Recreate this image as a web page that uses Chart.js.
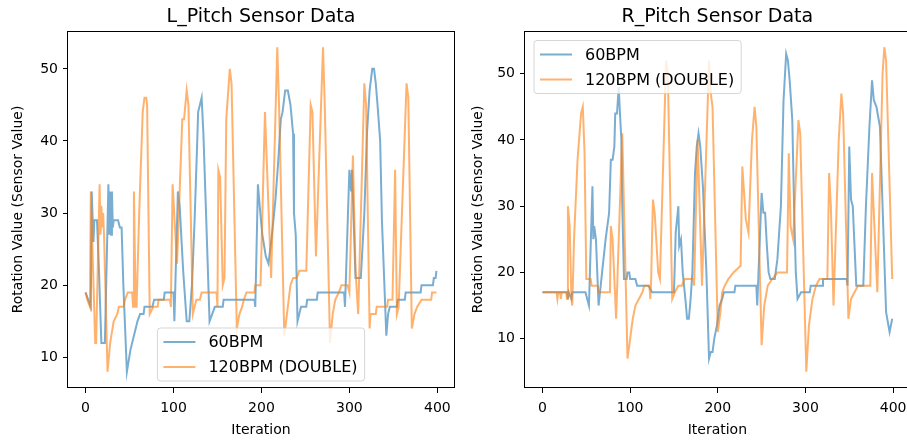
<!DOCTYPE html>
<html>
<head>
<meta charset="utf-8">
<script src="https://cdn.jsdelivr.net/npm/chart.js@4.4.0/dist/chart.umd.min.js"></script>
<style>
  html, body { margin: 0; padding: 0; background: #fff; overflow: hidden; }
  #wrap { position: relative; width: 907px; height: 443px; overflow: hidden; }
  canvas { position: absolute; top: 0; }
</style>
</head>
<body>
<div id="wrap">
  <canvas id="left" width="462" height="443" style="left:0"></canvas>
  <canvas id="right" width="453" height="443" style="left:460px"></canvas>
</div>
<script>
// values (iteration -> sensor value)
const titles = ['L_Pitch Sensor Data', 'R_Pitch Sensor Data'];
const seriesNames = ['60BPM', '120BPM (DOUBLE)'];
const xTicks = [0, 100, 200, 300, 400];
const yTicks = [10, 20, 30, 40, 50];

const leftIter60 = [0,3,6,7,9,10,13,15,18,22,26,27,28,29,30,31,32,37,39,41,43,47,51,55,59,62,66,67,76,78,89,90,100,101,105,107,111,115,118,121,124,127,128,130,132,134,137,141,144,147,156,157,192,193,196,198,201,205,208,212,216,219,222,224,227,230,233,236,237,239,241,243,245,251,252,263,264,294,295,300,302,303,307,313,317,320,323,326,328,330,332,335,337,342,344,346,354,355,363,364,381,382,395,396,398,399];
const leftVal60 = [19,18,17,33,26,29,29,23,12,12,34,27,33,27,33,28,29,29,28,28,20,8,11,13,15,16,16,17,17,18,18,19,19,15,33,31,22,15,15,20,29,40,44,45,46,41,30,15,16,17,17,18,18,17,34,31,27,24,23,27,32,37,43,44,47,47,45,41,30,27,15,16,17,17,18,18,19,19,17,36,33,36,21,21,30,41,47,50,50,48,45,40,29,13,16,17,17,18,18,19,19,20,20,21,21,22];

const leftIter120 = [0,2,5,6,11,12,16,17,18,19,20,21,25,28,32,36,38,43,45,48,53,54,55,57,58,61,65,67,69,70,73,77,82,83,96,97,99,104,105,110,112,115,117,122,124,126,130,132,149,150,151,153,156,158,160,164,166,172,175,178,180,183,192,193,199,204,211,218,220,226,229,231,233,236,240,243,251,256,258,262,270,272,278,281,284,288,291,298,300,304,307,310,317,319,323,324,330,331,343,344,349,352,354,356,365,367,371,374,377,382,393,394,399];
const leftVal120 = [19,18,17,33,12,12,34,27,31,28,30,27,8,12,15,16,17,17,18,19,19,17,33,17,17,30,44,46,46,45,16,17,17,18,18,17,34,23,23,43,43,47,45,16,17,18,18,19,19,17,36,35,20,21,43,50,48,14,16,17,18,19,19,20,20,44,21,53,45,13,16,18,20,21,21,22,22,45,44,24,53,45,12,16,18,19,20,20,19,38,22,16,48,45,14,16,16,17,17,18,18,36,16,17,48,46,14,16,17,18,18,19,19];

const rightIter60 = [0,28,29,30,33,34,49,53,57,58,59,61,64,68,72,76,78,80,82,83,85,87,88,90,91,93,96,97,99,100,106,108,121,125,150,152,155,156,158,160,163,165,167,169,171,174,176,178,180,183,187,190,192,194,196,199,202,205,207,219,220,244,245,250,252,254,256,258,260,265,268,272,275,278,280,282,285,287,289,291,295,305,306,319,320,347,348,350,352,354,358,366,369,373,376,378,381,385,388,392,396,399];
const rightVal60 = [17,17,16,17,16,17,17,15,33,25,27,25,15,20,25,29,37,37,39,44,44,48,45,40,30,19,19,20,20,19,19,18,18,17,17,26,30,24,25,20,16,13,13,16,20,35,39,41,39,33,20,7,8,8,10,12,15,16,17,17,18,18,15,32,29,29,24,20,19,19,22,30,46,53,52,49,43,30,20,16,17,17,18,18,19,19,18,39,31,30,18,18,30,42,49,46,45,42,30,14,11,13];

const rightIter120 = [0,16,17,18,20,21,22,27,28,29,31,33,34,36,40,44,46,48,50,55,56,63,64,77,78,80,84,91,97,100,103,106,110,114,116,122,123,124,126,128,132,134,141,143,148,151,155,159,162,172,173,177,182,190,192,194,200,203,205,208,212,218,226,228,232,235,239,242,244,250,253,257,262,268,279,281,283,286,292,294,301,304,308,312,316,325,327,329,332,338,341,343,349,352,356,360,374,376,382,388,390,392,399];
const rightVal120 = [17,17,16,17,17,16,17,17,16,30,27,16,15,25,37,44,45,38,19,19,18,18,17,17,27,25,13,41,7,10,13,15,16,17,18,18,16,19,31,29,20,19,52,50,16,17,18,18,19,19,18,40,18,52,47,45,11,14,17,18,19,20,21,36,28,26,40,45,42,9,15,18,19,20,20,38,27,25,43,41,5,12,16,18,19,19,35,30,15,40,47,44,13,16,17,18,18,35,17,50,54,52,19];

const blue = 'rgba(31,119,180,0.6)';
const orange = 'rgba(255,127,14,0.6)';
const FONT = '"DejaVu Sans", sans-serif';

Chart.defaults.font.family = FONT;
Chart.defaults.color = '#000';

function points(iters, vals) {
  return iters.map((it, i) => ({ x: it, y: vals[i] }));
}

// matplotlib-like frame, title and legend box
const mplDecor = {
  id: 'mplDecor',
  afterDatasetsDraw(chart, args, opts) {
    const ctx = chart.ctx, a = chart.chartArea;
    ctx.save();

    // legend
    ctx.font = '16px ' + FONT;
    const tw = Math.max(...seriesNames.map(s => ctx.measureText(s).width));
    const w = 51 + tw + 7, h = 53;
    let x, y;
    if (opts.legend === 'lower center') {
      x = (a.left + a.right) / 2 - w / 2;
      y = a.bottom - 7 - h;
    } else {
      x = a.left + 9;
      y = a.top + 9.5;
    }
    ctx.beginPath();
    ctx.roundRect(x, y, w, h, 3);
    ctx.fillStyle = 'rgba(255,255,255,0.8)';
    ctx.fill();
    ctx.strokeStyle = 'rgba(204,204,204,0.8)';
    ctx.lineWidth = 1;
    ctx.stroke();
    const cols = [blue, orange];
    ctx.textBaseline = 'middle';
    ctx.textAlign = 'left';
    seriesNames.forEach((name, i) => {
      const ry = y + 14 + i * 25;
      ctx.beginPath();
      ctx.moveTo(x + 6, ry);
      ctx.lineTo(x + 38, ry);
      ctx.strokeStyle = cols[i];
      ctx.lineWidth = 2;
      ctx.stroke();
      ctx.fillStyle = '#000';
      ctx.fillText(name, x + 51, ry + 1);
    });

    // frame
    ctx.strokeStyle = '#000';
    ctx.lineWidth = 1;
    ctx.strokeRect(Math.round(a.left) - 0.5, Math.round(a.top) + 0.5,
      Math.round(a.right - a.left) + 1, Math.round(a.bottom - a.top) - 1);

    // title
    ctx.font = '19px ' + FONT;
    ctx.textAlign = 'center';
    ctx.textBaseline = 'alphabetic';
    ctx.fillStyle = '#000';
    ctx.fillText(opts.title, (a.left + a.right) / 2, 22);
    ctx.restore();
  }
};

function makeChart(id, title, it60, v60, it120, v120, yMin, yMax, legendPos, axisW, padRight) {
  return new Chart(document.getElementById(id), {
    type: 'line',
    data: {
      datasets: [
        { label: seriesNames[0], data: points(it60, v60), borderColor: blue, borderWidth: 2, pointRadius: 0, tension: 0, order: 1 },
        { label: seriesNames[1], data: points(it120, v120), borderColor: orange, borderWidth: 2, pointRadius: 0, tension: 0, order: 0 }
      ]
    },
    options: {
      responsive: false,
      animation: false,
      events: [],
      layout: { padding: { top: 31, left: 0, right: padRight, bottom: 0 } },
      plugins: {
        legend: { display: false },
        tooltip: { enabled: false },
        title: { display: false },
        mplDecor: { title: title, legend: legendPos }
      },
      scales: {
        x: {
          type: 'linear',
          min: -19.95,
          max: 418.95,
          afterBuildTicks: s => { s.ticks = xTicks.map(v => ({ value: v })); },
          afterFit: s => { s.height = 55; },
          ticks: { font: { size: 14 }, color: '#000', padding: 6.5, maxRotation: 0 },
          grid: { drawOnChartArea: false, tickLength: 5, tickColor: '#000' },
          border: { display: false },
          title: { display: true, text: 'Iteration', font: { size: 14 }, color: '#000', padding: { top: 0, bottom: 4.6 } }
        },
        y: {
          min: yMin,
          max: yMax,
          afterBuildTicks: s => { s.ticks = yTicks.map(v => ({ value: v })); },
          afterFit: s => { s.width = axisW; },
          ticks: { font: { size: 14 }, color: '#000', padding: 5 },
          grid: { drawOnChartArea: false, tickLength: 5, tickColor: '#000' },
          border: { display: false },
          title: { display: true, text: 'Rotation Value (Sensor Value)', font: { size: 14 }, color: '#000', padding: { top: 10, bottom: 0 } }
        }
      }
    },
    plugins: [mplDecor]
  });
}

makeChart('left', titles[0], leftIter60, leftVal60, leftIter120, leftVal120, 5.75, 55.25, 'lower center', 68, 8);
makeChart('right', titles[1], rightIter60, rightVal60, rightIter120, rightVal120, 2.55, 56.45, 'upper left', 65, 1);
</script>
</body>
</html>
